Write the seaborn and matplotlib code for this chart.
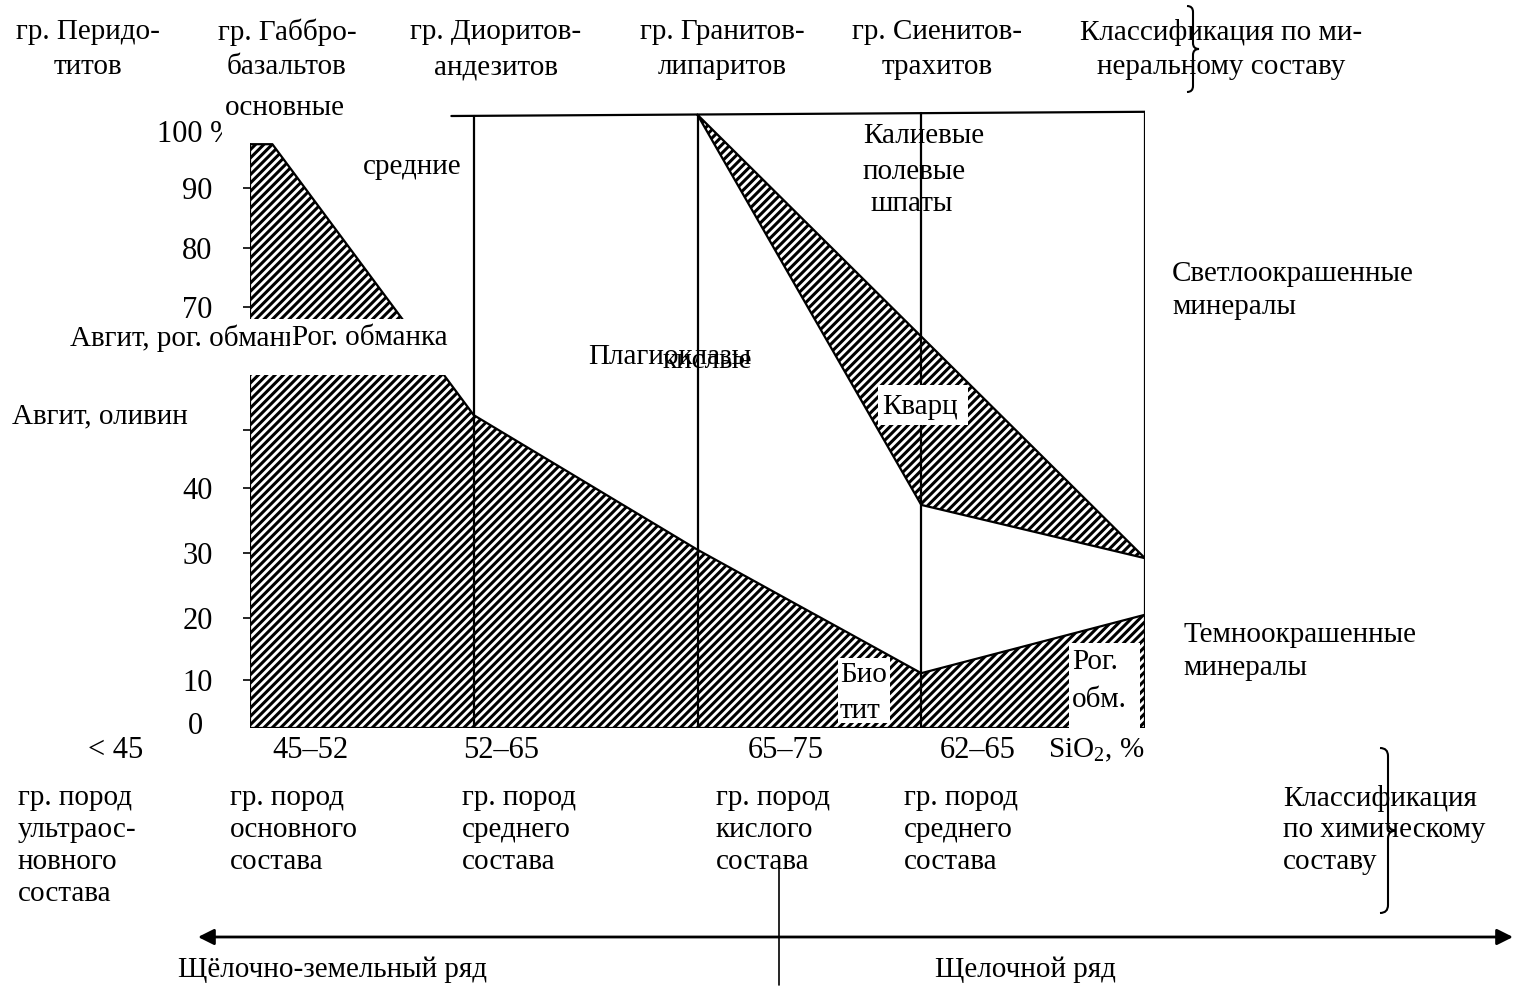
import numpy as np
import pandas as pd
import seaborn as sns
import matplotlib.pyplot as plt
from matplotlib.patches import Rectangle, PathPatch
from matplotlib.path import Path

sns.set_theme(style='white')
plt.rcParams['font.family'] = ['Liberation Serif', 'DejaVu Serif']
plt.rcParams['mathtext.fontset'] = 'custom'
plt.rcParams['mathtext.rm'] = 'Liberation Serif'
plt.rcParams['hatch.linewidth'] = 2.2
plt.rcParams['hatch.color'] = 'black'

FS = 21

# Columns on the x axis: 0 = left edge (basic), 1 = 52-65, 2 = 65-75,
# 3 = 62-65 (alkaline), 4 = right edge
dark_x = [0, 0.1, 1, 2, 3, 4]
dark_pct = [97.3, 97.3, 52.4, 30.5, 11.1, 20.5]      # dark minerals, %
quartz_x = [2, 4, 3]
quartz_pct = [102.2, 29.2, 37.4]                       # quartz wedge, %
col_x = [1, 2, 3, 4]
col_top = [102.0, 102.2, 102.5, 102.7]
top_x = [0.9, 4]
top_pct = [102.0, 102.7]

y_ticks = [10, 20, 30, 40, 50, 70, 80, 90]
y_labels = ['10', '20', '30', '40', '', '70', '80', '90']

# the % scale of the hand drawing is not quite even
scale_vals = [0, 10, 20, 30, 40, 50, 60, 70, 80, 90, 100, 110]
scale_rows = np.array([728, 680, 618, 553, 488, 430, 368, 307, 248, 188, 128, 68])
scale_pos = 728 - scale_rows


def fwd(v):
    return np.interp(v, scale_vals, scale_pos)


def inv(p):
    return np.interp(p, scale_pos, scale_vals)


# line segments of the diagram
segs = []
segs.append(('dark', dark_x, dark_pct))
segs.append(('left', [0, 0], [0, dark_pct[0]]))
segs.append(('bottom', [0, 4], [0, 0]))
segs.append(('top', top_x, top_pct))
segs.append(('quartz', quartz_x + [quartz_x[0]], quartz_pct + [quartz_pct[0]]))
for i, (cx, ct) in enumerate(zip(col_x, col_top)):
    segs.append((f'col{i}', [cx, cx], [0, ct]))
lines = pd.concat([pd.DataFrame({'seg': s, 'x': xs, 'pct': ys}) for s, xs, ys in segs],
                  ignore_index=True)

fig = plt.figure(figsize=(15.15, 9.93), dpi=100)
ax = fig.add_axes([250 / 1515, 1 - 728 / 993, 895 / 1515, 624 / 993])
ax.set_facecolor('white')

ax.fill_between(dark_x, 0, dark_pct, facecolor='white', edgecolor='black',
                hatch='////', linewidth=0, zorder=1)
ax.fill(quartz_x, quartz_pct, facecolor='white', edgecolor='black',
        hatch='////', linewidth=0, zorder=1)
sns.lineplot(data=lines, x='x', y='pct', units='seg', estimator=None, sort=False,
             color='black', linewidth=1.6, legend=False, ax=ax, zorder=2)

ax.set_yscale('function', functions=(fwd, inv))
ax.set_xlim(0, 4)
ax.set_ylim(0, 104)
ax.set_xticks([])
ax.set_yticks(y_ticks)
ax.set_yticklabels(y_labels, fontsize=22, color='black')
ax.tick_params(axis='y', left=True, length=5, width=1.2, color='black', pad=22)
ax.set_xlabel('')
ax.set_ylabel('')
for sp in ax.spines.values():
    sp.set_visible(False)

# overlay in picture pixels for labels, boxes, braces and arrows
ov = fig.add_axes([0, 0, 1, 1], zorder=5)
ov.set_xlim(0, 1515)
ov.set_ylim(993, 0)
ov.axis('off')
ov.patch.set_alpha(0)


def put(lines_, x, y0, dy=33, ha='left', size=FS, z=3):
    for k, t in enumerate(lines_):
        ov.text(x, y0 + k * dy, t, ha=ha, va='center', fontsize=size, color='black',
                zorder=z)


def box(x0, y0, x1, y1, z=1):
    ov.add_patch(Rectangle((x0, y0), x1 - x0, y1 - y0, facecolor='white',
                           edgecolor='none', zorder=z))


def brace(xc, y0, y1, w):
    ym = (y0 + y1) / 2
    verts = [(xc - w, y0), (xc, y0), (xc, y0 + w), (xc, ym - w), (xc, ym), (xc + w, ym),
             (xc, ym), (xc, ym + w), (xc, y1 - w), (xc, y1), (xc - w, y1)]
    codes = [Path.MOVETO, Path.CURVE3, Path.CURVE3, Path.LINETO, Path.CURVE3, Path.CURVE3,
             Path.CURVE3, Path.CURVE3, Path.LINETO, Path.CURVE3, Path.CURVE3]
    ov.add_patch(PathPatch(Path(verts, codes), fill=False, lw=1.5, edgecolor='black',
                           zorder=6))


# top headers
put(['гр. Перидо-', 'титов'], 88, 32, 35, ha='center')
put(['гр. Габбро-', 'базальтов'], 287, 32, 35, ha='center')
put(['гр. Диоритов-', 'андезитов'], 496, 32, 35, ha='center')
put(['гр. Гранитов-', 'липаритов'], 722, 32, 35, ha='center')
put(['гр. Сиенитов-', 'трахитов'], 937, 32, 35, ha='center')
put(['Классификация по ми-', 'неральному составу'], 1221, 32, 35, ha='center')
brace(1193, 6, 92, 6)

# inside the diagram
put(['100 %'], 157, 134, size=22)
box(222, 95, 350, 143, z=4)
put(['основные'], 225, 108, z=5)
put(['средние'], 363, 167)
put(['Плагиоклазы'], 588, 357)
put(['кислые'], 663, 361)
put(['Калиевые', 'полевые'], 863, 136, 36)
put(['шпаты'], 871, 204)
box(878, 385, 968, 425)
put(['Кварц'], 882, 407)
put(['Светлоокрашенные', 'минералы'], 1172, 274)
put(['Темноокрашенные', 'минералы'], 1183, 635)
put(['Авгит, оливин'], 12, 416)
box(250, 319, 460, 375)
put(['Авгит, рог. обманка'], 70, 338)
box(290, 322, 458, 356, z=4)
put(['Рог. обманка'], 292, 338, z=5)
box(838, 658, 890, 723)
put(['Био', 'тит'], 840, 675, 36)
box(1069, 643, 1140, 728)
put(['Рог.', 'обм.'], 1072, 662, 38)
put(['0'], 188, 727, size=22)

# SiO2 groups along the bottom
put(['< 45'], 88, 750, size=22)
put(['45–52'], 272, 750, size=22)
put(['52–65'], 463, 750, size=22)
put(['65–75'], 748, 750, size=22)
put(['62–65'], 940, 750, size=22)
put([r'SiO$_\mathrm{2}$, %'], 1048, 750)

put(['гр. пород', 'ультраос-', 'новного', 'состава'], 18, 798, 32)
put(['гр. пород', 'основного', 'состава'], 230, 798, 32)
put(['гр. пород', 'среднего', 'состава'], 462, 798, 32)
put(['гр. пород', 'кислого', 'состава'], 716, 798, 32)
put(['гр. пород', 'среднего', 'состава'], 904, 798, 32)
put(['Классификация', 'по химическому', 'составу'], 1283, 798, 32)
brace(1388, 748, 913, 8)

# series arrow
ov.annotate('', xy=(198, 937), xytext=(1513, 937),
            arrowprops=dict(arrowstyle='<|-|>', lw=2, color='black',
                            mutation_scale=24, shrinkA=0, shrinkB=0))
ov.plot([779, 779], [862, 985], color='black', lw=1.2)
put(['Щёлочно-земельный ряд'], 178, 970)
put(['Щелочной ряд'], 935, 970)

fig.savefig('out.png', dpi=100)
